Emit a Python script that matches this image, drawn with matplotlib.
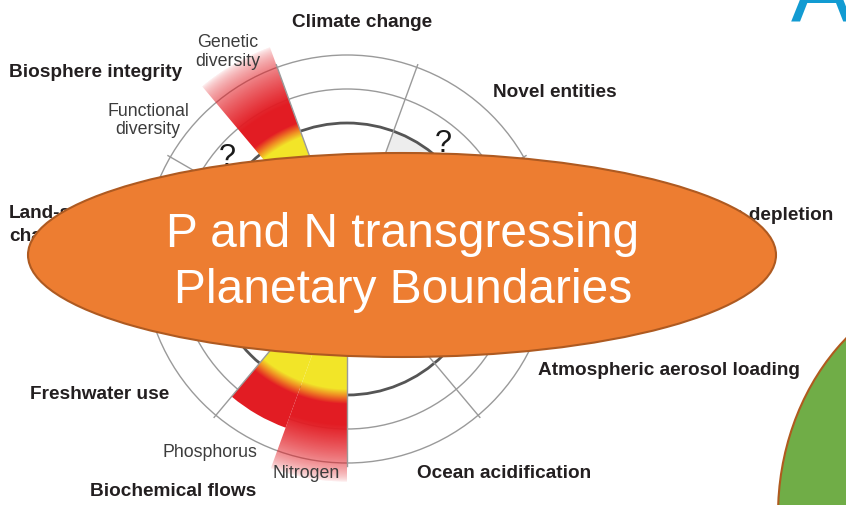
import numpy as np
import matplotlib.pyplot as plt
from matplotlib.patches import Circle, Wedge, Ellipse

plt.rcParams['font.family'] = ['Liberation Sans', 'DejaVu Sans']

# the nine planetary boundaries, clockwise from the top
boundaries = ["Climate change", "Novel entities", "Stratospheric ozone depletion",
              "Atmospheric aerosol loading", "Ocean acidification", "Biochemical flows",
              "Freshwater use", "Land-system\nchange", "Biosphere integrity"]

# sub-boundaries (value = control variable in multiples of the boundary)
sub_labels = ["Genetic\ndiversity", "Functional\ndiversity", "Phosphorus", "Nitrogen"]
sub_parent = ["Biosphere integrity", "Biosphere integrity", "Biochemical flows", "Biochemical flows"]
sub_values = [1.66, np.nan, 1.32, 1.64]

# not yet quantified -> "?"
unknown = ["Novel entities", "Functional\ndiversity"]

# rings: boundary, end of zone of uncertainty, outer ring
rings = [1.0, 1.25, 1.5]

title_lines = ["P and N transgressing", "Planetary Boundaries"]

# ---- layout (pixels of the 846x505 slide) ----
W, H = 846, 505
cx, cy, R = 347, 259, 136

label_pos = {
    "Climate change": (292, 27, "left"),
    "Novel entities": (493, 97, "left"),
    "Stratospheric ozone depletion": (833, 220, "right"),
    "Atmospheric aerosol loading": (538, 375, "left"),
    "Ocean acidification": (417, 478, "left"),
    "Biochemical flows": (90, 496, "left"),
    "Freshwater use": (30, 399, "left"),
    "Land-system\nchange": (9, 218, "left"),
    "Biosphere integrity": (9, 77, "left"),
}
sub_pos = {
    "Genetic\ndiversity": (228, 47, "center"),
    "Functional\ndiversity": (148, 116, "center"),
    "Phosphorus": (162, 457, "left"),
    "Nitrogen": (273, 478, "left"),
}

n = len(boundaries)
step = 360 / n
centre_ang = {b: 90 - i * step for i, b in enumerate(boundaries)}


def sub_span(name):
    # first sub-boundary sits on the low-angle side of its parent sector
    parent = sub_parent[sub_labels.index(name)]
    sibs = [s for s, p in zip(sub_labels, sub_parent) if p == parent]
    k = sibs.index(name)
    lo = centre_ang[parent] - step / 2
    w = step / len(sibs)
    return lo + k * w, lo + (k + 1) * w


def wedge_rgba(u, value):
    yellow = np.array([0.95, 0.90, 0.16])
    orange = np.array([0.94, 0.55, 0.14])
    red = np.array([0.89, 0.11, 0.14])
    t1 = np.clip((u - 0.955) / 0.05, 0, 1)[..., None]
    t2 = np.clip((u - 1.005) / 0.06, 0, 1)[..., None]
    rgb = yellow * (1 - t1) + orange * t1
    rgb = rgb * (1 - t2) + red * t2
    alpha = np.ones_like(u)
    if value > rings[-1]:
        alpha = np.clip((value - u) / (value - 1.22), 0, 1) ** 0.6
    return np.dstack([rgb, alpha])


fig = plt.figure(figsize=(W / 100, H / 100), dpi=100)
ax = fig.add_axes([0, 0, 1, 1])
ax.axis("off")

# light grey for the unquantified sector
a = centre_ang["Novel entities"]
ax.add_patch(Wedge((cx, cy), R, -(a + step / 2), -(a - step / 2),
                   fc="#EDEDED", ec="none", zorder=1))

for rv in rings:
    if rv == 1.0:
        ax.add_patch(Circle((cx, cy), rv * R, fill=False, ec="#555555", lw=2.0, zorder=1.5))
    else:
        ax.add_patch(Circle((cx, cy), rv * R, fill=False, ec="#9A9A9A", lw=1.0, zorder=1.5))

# coloured wedges
xx, yy = np.meshgrid(np.arange(W) + 0.5, np.arange(H) + 0.5)
u = np.hypot(xx - cx, yy - cy) / R
for name, val in zip(sub_labels, sub_values):
    if np.isnan(val):
        continue
    lo, hi = sub_span(name)
    img = ax.imshow(wedge_rgba(u, val), extent=(0, W, H, 0), origin="upper",
                    interpolation="bilinear", zorder=2, aspect="auto")
    clip = Wedge((cx, cy), val * R, -hi, -lo, transform=ax.transData)
    img.set_clip_path(clip)

# radial lines between boundaries
for i in range(n):
    e = np.deg2rad(90 + step / 2 - i * step)
    r0, r1 = 0.55 * R, 1.52 * R
    ax.plot([cx + r0 * np.cos(e), cx + r1 * np.cos(e)],
            [cy - r0 * np.sin(e), cy - r1 * np.sin(e)],
            color="#9A9A9A", lw=1.0, zorder=3)

# question marks
for name in unknown:
    if name in centre_ang:
        ang, rq = centre_ang[name], 1.10
    else:
        lo, hi = sub_span(name)
        ang, rq = (lo + hi) / 2, 1.15
    t = np.deg2rad(ang)
    ax.text(cx + rq * R * np.cos(t), cy - rq * R * np.sin(t), "?",
            fontsize=22, color="#1A1A1A", ha="center", va="center", zorder=4)

# labels
for name in boundaries:
    x, y, ha = label_pos[name]
    for j, line in enumerate(name.split("\n")):
        ax.text(x, y + 23 * j, line, fontsize=13.7, fontweight="bold",
                color="#231F20", ha=ha, va="baseline", zorder=4)
for name in sub_labels:
    x, y, ha = sub_pos[name]
    for j, line in enumerate(name.split("\n")):
        ax.text(x, y + 18.5 * j, line, fontsize=12.8, color="#3C3C3C",
                ha=ha, va="baseline", zorder=4)

# slide overlays
ax.add_patch(Ellipse((402, 255), 748, 204, fc="#ED7D31", ec="#AE5A21", lw=1.5, zorder=10))
for j, line in enumerate(title_lines):
    ax.text(403, 247 + 56 * j, line, fontsize=34.5, color="white",
            ha="center", va="baseline", zorder=11)
ax.add_patch(Ellipse((978, 515), 400, 470, fc="#70AD47", ec="#B05A1E", lw=1.5, zorder=10))
ax.text(791, 23, "A", fontsize=66, color="#129BD2", ha="left", va="baseline", zorder=11)

ax.set_xlim(0, W)
ax.set_ylim(H, 0)

plt.savefig("out.png", dpi=100)
plt.close()
